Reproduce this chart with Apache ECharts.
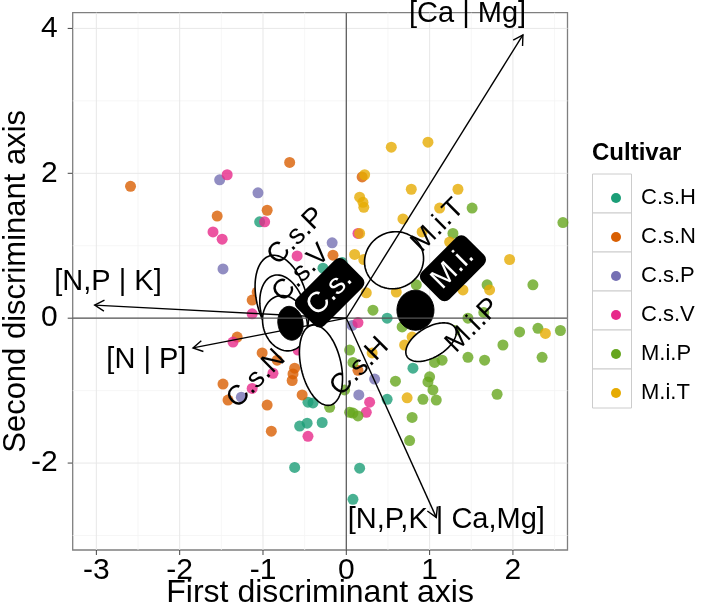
<!DOCTYPE html>
<html><head><meta charset="utf-8">
<script src="https://cdn.jsdelivr.net/npm/echarts@6/dist/echarts.min.js"></script>
<style>html,body{margin:0;padding:0;background:#fff}#c{width:708px;height:606px}</style>
</head><body><div id="c"></div>
<script>
// ---------- data ----------
const cultivars = ['C.s.H','C.s.N','C.s.P','C.s.V','M.i.P','M.i.T'];
const colors = ['#1B9E77','#D95F02','#7570B3','#E7298A','#66A61E','#E6AB02'];

const ptsCsH = [[-1.04,1.33],[-0.28,0.69],[-0.05,0.77],[0.49,0.00],[0.80,-0.69],[-0.46,-1.16],[-0.40,-1.17],[-0.29,-1.44],[-0.47,-1.45],[-0.56,-1.49],[-0.62,-2.06],[0.16,-2.07],[0.08,-2.50],[0.49,-1.12]];
const ptsCsN = [[-2.59,1.82],[-0.68,2.15],[-1.55,1.41],[-0.95,1.49],[-1.07,0.36],[-1.13,0.25],[-0.16,0.87],[-1.31,-0.26],[-1.01,-0.48],[-0.83,-0.58],[-0.62,-0.69],[-0.64,-0.77],[-0.65,-0.86],[-0.53,-1.06],[-0.95,-1.20],[-0.90,-1.56],[-1.48,-0.91],[-1.42,-1.13],[0.14,-0.72],[0.19,1.95]];
const ptsCsP = [[-1.52,1.91],[-1.06,1.73],[-1.48,0.68],[-0.17,1.04],[-1.26,-1.09],[0.34,-0.84],[0.15,-1.06],[0.07,-0.10]];
const ptsCsV = [[-1.43,1.98],[-1.60,1.19],[-1.49,1.09],[-0.98,1.33],[-0.59,0.86],[-1.13,0.06],[-1.36,-0.33],[0.14,1.17],[0.14,-0.06],[-0.88,-0.76],[-1.13,-0.97],[-0.46,-1.63],[-0.58,-0.44],[0.28,-1.16],[0.24,-1.30]];
const ptsMiP = [[1.51,1.52],[1.28,1.17],[2.24,0.46],[0.84,0.46],[0.32,0.11],[1.69,0.46],[0.67,-0.12],[1.46,0.00],[1.65,0.08],[2.08,-0.19],[2.30,-0.14],[1.88,-0.37],[1.46,-0.54],[1.66,-0.58],[1.15,-0.58],[1.06,-0.61],[0.04,-0.44],[0.08,-0.61],[0.59,-0.87],[1.30,-0.17],[1.00,-0.81],[0.98,-0.88],[1.04,-0.99],[1.08,-1.13],[0.92,-1.12],[0.79,-1.37],[0.76,-1.69],[1.81,-1.05],[2.35,-0.54],[0.08,-1.31],[0.14,-1.35],[0.04,-1.30],[-0.02,-0.99],[-0.20,-1.23],[2.60,1.32],[2.57,-0.17]];
const ptsMiT = [[0.54,2.36],[0.98,2.43],[0.22,1.98],[0.16,1.67],[0.20,1.60],[0.21,1.53],[0.78,1.78],[1.34,1.78],[0.68,1.37],[1.12,1.52],[0.16,1.17],[0.91,1.19],[1.24,1.05],[0.10,0.88],[0.21,0.81],[1.96,0.81],[0.24,0.35],[0.60,0.36],[1.40,0.39],[1.72,0.39],[0.70,-0.37],[0.31,-0.48],[0.79,-0.26],[0.73,-1.10],[2.39,-0.21]];
const seriesPoints = [ptsCsH, ptsCsN, ptsCsP, ptsCsV, ptsMiP, ptsMiT];

const xRange = [-3.284, 2.655];
const yRange = [-3.2, 4.217];
const xTicks = [-3,-2,-1,0,1,2];
const yTicks = [-2,0,2,4];
const xMinor = [-2.5,-1.5,-0.5,0.5,1.5,2.5];
const yMinor = [-3,-1,1,3];

// loading arrows (from origin)
const arrowNames = ['[Ca | Mg]','[N,P | K]','[N | P]','[N,P,K | Ca,Mg]'];
const arrowTips = [[2.12,3.91],[-3.02,0.18],[-1.84,-0.41],[1.08,-2.75]];
const arrowLabelPos = [[1.455,4.20],[-2.86,0.50],[-2.40,-0.58],[1.20,-2.79]];

// cultivar confidence ellipses: [cx, cy, rx, ry, rotationDeg]
const ellipseNames = ['C.s.P','C.s.V','C.s.N','C.s.H','M.i.T','M.i.P'];
const ellipseParams = [
  [-0.772,0.249,0.30,0.635,-15],
  [-0.760,0.110,0.264,0.497,-15],
  [-0.736,-0.069,0.264,0.387,-15],
  [-0.304,-0.649,0.24,0.566,-13],
  [0.573,0.80,0.36,0.387,-30],
  [1.017,-0.331,0.336,0.207,-31]
];
const ellipseLabelPos = [[-0.60,1.13],[-0.54,0.62],[-1.08,-0.84],[0.16,-0.67],[1.10,1.28],[1.52,-0.10]];

// species group ellipses (filled)
const groupNames = ['C.s.','M.i.'];
const groupParams = [[-0.67,-0.07,0.15,0.235,-10],[0.83,0.11,0.222,0.276,0]];
const groupLabelPos = [[-0.20,0.35],[1.28,0.69]];

// ---------- helpers ----------
const FONT = 'Liberation Sans, Arial, Helvetica, sans-serif';
function ellipsePts(api, p) {
  const c = api.coord([p[0], p[1]]);
  const s = api.size([p[2], p[3]]);
  const a = p[4] * Math.PI / 180, ca = Math.cos(a), sa = Math.sin(a);
  const pts = [];
  for (let i = 0; i < 90; i++) {
    const t = i / 90 * 2 * Math.PI;
    const lx = s[0] * Math.cos(t), ly = s[1] * Math.sin(t);
    pts.push([c[0] + lx * ca - ly * sa, c[1] + lx * sa + ly * ca]);
  }
  return pts;
}

const chart = echarts.init(document.getElementById('c'), null, {renderer: 'canvas'});

const scatterSeries = cultivars.map((name, i) => ({
  type: 'scatter', name: name, data: seriesPoints[i], symbol: 'circle', symbolSize: 11,
  itemStyle: {color: colors[i], opacity: 0.8}, z: 2, emphasis: {disabled: true}, silent: true
}));

const option = {
  animation: false,
  backgroundColor: '#fff',
  grid: {left: 72.7, right: 140.5, top: 12.7, bottom: 56, show: true, borderColor: '#7f7f7f', borderWidth: 1.3, backgroundColor: '#fff', outerBoundsMode: 'none'},
  xAxis: {type: 'value', min: xRange[0], max: xRange[1], axisLine: {show: false}, axisTick: {show: false}, axisLabel: {show: false}, splitLine: {show: false},
    name: 'First discriminant axis', nameLocation: 'middle', nameGap: 27, nameTextStyle: {fontSize: 32, fontFamily: FONT, color: '#000'}},
  yAxis: {type: 'value', min: yRange[0], max: yRange[1], axisLine: {show: false}, axisTick: {show: false}, axisLabel: {show: false}, splitLine: {show: false},
    name: 'Second discriminant axis', nameLocation: 'middle', nameGap: 41, nameTextStyle: {fontSize: 31, fontFamily: FONT, color: '#000'}},
  legend: {
    data: cultivars, orient: 'vertical', left: 606, top: 180, itemWidth: 10, itemHeight: 10, itemGap: 13, icon: 'circle',
    itemStyle: {opacity: 1}, selectedMode: false,
    textStyle: {fontSize: 22, fontFamily: FONT, color: '#000', lineHeight: 26, padding: [0, 0, 0, 15]}
  },
  graphic: [
    {type: 'text', left: 592, top: 141, style: {text: 'Cultivar', fontSize: 24, fontWeight: 'bold', fontFamily: FONT, fill: '#000'}}
  ].concat(cultivars.map((c, i) => ({
    type: 'rect', left: 592, top: 173.5 + i * 39, shape: {width: 39, height: 39},
    style: {fill: '#fff', stroke: '#cccccc', lineWidth: 1}, z: 0
  }))),
  series: [
    // grid lines, ticks, tick labels
    {type: 'custom', data: [[0, 0]], z: 0, silent: true, clip: false,
     renderItem: function (params, api) {
       const cs = params.coordSys, L = cs.x, R = cs.x + cs.width, T = cs.y, B = cs.y + cs.height;
       const ch = [];
       xMinor.forEach(v => { const x = api.coord([v, 0])[0]; if (x > L && x < R) ch.push({type: 'line', shape: {x1: x, y1: T, x2: x, y2: B}, style: {stroke: '#f4f4f4', lineWidth: 0.8}}); });
       yMinor.forEach(v => { const y = api.coord([0, v])[1]; if (y > T && y < B) ch.push({type: 'line', shape: {x1: L, y1: y, x2: R, y2: y}, style: {stroke: '#f4f4f4', lineWidth: 0.8}}); });
       xTicks.forEach(v => { const x = api.coord([v, 0])[0];
         ch.push({type: 'line', shape: {x1: x, y1: T, x2: x, y2: B}, style: {stroke: '#e8e8e8', lineWidth: 1}});
         ch.push({type: 'line', shape: {x1: x, y1: B, x2: x, y2: B + 5}, style: {stroke: '#444', lineWidth: 1}});
         ch.push({type: 'text', x: x, y: B + 21, style: {text: String(v), fontSize: 30, fontFamily: FONT, fill: '#000', align: 'center', verticalAlign: 'middle'}});
       });
       yTicks.forEach(v => { const y = api.coord([0, v])[1];
         ch.push({type: 'line', shape: {x1: L, y1: y, x2: R, y2: y}, style: {stroke: '#e8e8e8', lineWidth: 1}});
         ch.push({type: 'line', shape: {x1: L - 5, y1: y, x2: L, y2: y}, style: {stroke: '#444', lineWidth: 1}});
         ch.push({type: 'text', x: L - 15, y: y, style: {text: String(v), fontSize: 30, fontFamily: FONT, fill: '#000', align: 'right', verticalAlign: 'middle'}});
       });
       return {type: 'group', children: ch};
     }}
  ].concat(scatterSeries).concat([
    // cultivar ellipses (white fill)
    {type: 'custom', data: ellipseParams, z: 3, silent: true,
     renderItem: function (params, api) {
       const p = ellipseParams[params.dataIndex];
       return {type: 'polygon', shape: {points: ellipsePts(api, p)}, style: {fill: '#fff', stroke: '#000', lineWidth: 1.6}};
     }},
    // group ellipses (black fill)
    {type: 'custom', data: groupParams, z: 3, silent: true,
     renderItem: function (params, api) {
       const p = groupParams[params.dataIndex];
       return {type: 'polygon', shape: {points: ellipsePts(api, p)}, style: {fill: '#000', stroke: '#000', lineWidth: 1}};
     }},
    // zero reference lines and arrows
    {type: 'custom', data: arrowTips, z: 4, silent: true, clip: false,
     renderItem: function (params, api) {
       const ch = [];
       const o = api.coord([0, 0]);
       if (params.dataIndex === 0) {
         const cs = params.coordSys;
         ch.push({type: 'line', shape: {x1: o[0], y1: cs.y, x2: o[0], y2: cs.y + cs.height}, style: {stroke: '#555', lineWidth: 1.2}});
         ch.push({type: 'line', shape: {x1: cs.x, y1: o[1], x2: cs.x + cs.width, y2: o[1]}, style: {stroke: '#555', lineWidth: 1.2}});
       }
       const tip = api.coord(arrowTips[params.dataIndex]);
       const dx = tip[0] - o[0], dy = tip[1] - o[1], len = Math.hypot(dx, dy);
       const ux = dx / len, uy = dy / len, L = 11, ang = Math.PI / 6;
       const w1 = [tip[0] - L * (ux * Math.cos(ang) - uy * Math.sin(ang)), tip[1] - L * (ux * Math.sin(ang) + uy * Math.cos(ang))];
       const w2 = [tip[0] - L * (ux * Math.cos(-ang) - uy * Math.sin(-ang)), tip[1] - L * (ux * Math.sin(-ang) + uy * Math.cos(-ang))];
       ch.push({type: 'line', shape: {x1: o[0], y1: o[1], x2: tip[0], y2: tip[1]}, style: {stroke: '#000', lineWidth: 1.4}});
       ch.push({type: 'polyline', shape: {points: [w1, tip, w2]}, style: {stroke: '#000', lineWidth: 1.4, fill: null}});
       const lp = api.coord(arrowLabelPos[params.dataIndex]);
       ch.push({type: 'text', x: lp[0], y: lp[1], style: {text: arrowNames[params.dataIndex], fontSize: 29, fontFamily: FONT, fill: '#000', align: 'center', verticalAlign: 'middle'}});
       return {type: 'group', children: ch};
     }},
    // ellipse labels
    {type: 'custom', data: ellipseLabelPos, z: 5, silent: true, clip: false,
     renderItem: function (params, api) {
       const p = api.coord(ellipseLabelPos[params.dataIndex]);
       return {type: 'text', x: p[0], y: p[1], rotation: Math.PI / 4,
         style: {text: ellipseNames[params.dataIndex], fontSize: 28, fontFamily: FONT, fill: '#000', align: 'center', verticalAlign: 'middle'}};
     }},
    // group labels (black boxes)
    {type: 'custom', data: groupLabelPos, z: 6, silent: true, clip: false,
     renderItem: function (params, api) {
       const p = api.coord(groupLabelPos[params.dataIndex]);
       return {type: 'text', x: p[0], y: p[1], rotation: Math.PI / 4,
         style: {text: groupNames[params.dataIndex], fontSize: 29, fontFamily: FONT, fill: '#fff', align: 'center', verticalAlign: 'middle',
           backgroundColor: '#000', borderRadius: 7, padding: [5, 8]}};
     }}
  ])
};
chart.setOption(option);
</script></body></html>
